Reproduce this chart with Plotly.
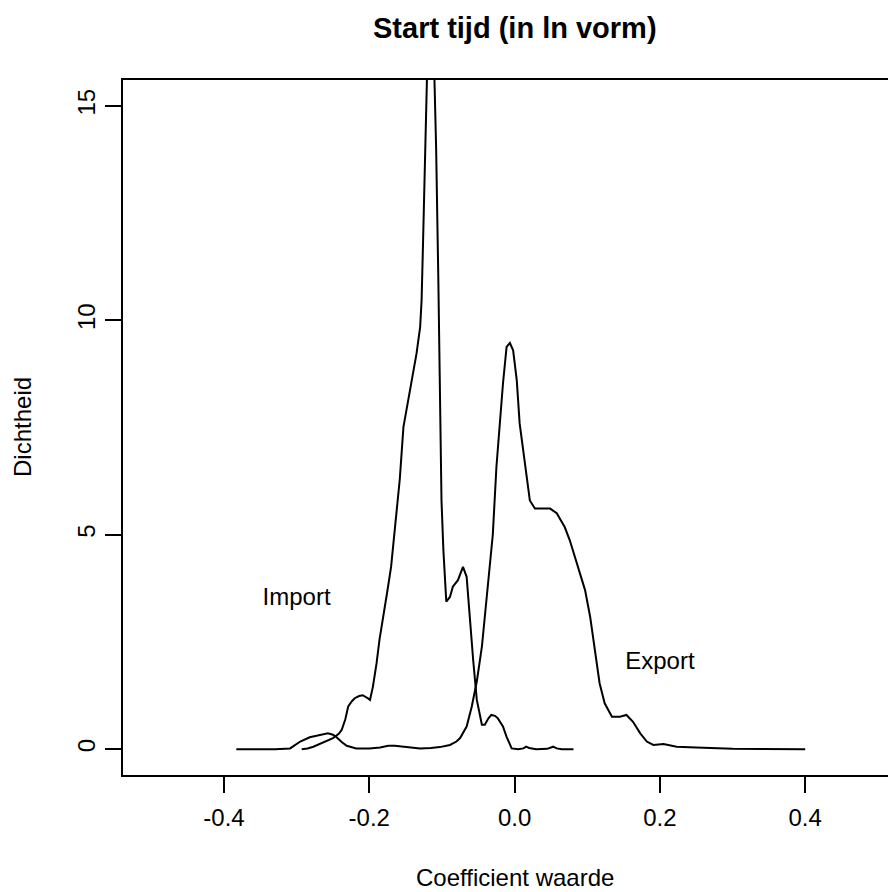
import plotly.graph_objects as go

# Import density curve
import_x = [-0.293, -0.285, -0.277, -0.265, -0.250, -0.242, -0.238, -0.233, -0.229, -0.224,
            -0.220, -0.214, -0.209, -0.203, -0.199, -0.195, -0.190, -0.186, -0.179, -0.175,
            -0.170, -0.166, -0.163, -0.158, -0.153, -0.146, -0.142, -0.135, -0.130, -0.128,
            -0.126, -0.124, -0.121, -0.118, -0.115, -0.112, -0.110, -0.108, -0.105, -0.103,
            -0.1006, -0.098, -0.094, -0.089, -0.085, -0.078, -0.074, -0.071, -0.066, -0.062,
            -0.057, -0.052, -0.045, -0.041, -0.036, -0.032, -0.027, -0.023, -0.016, -0.011,
            -0.004, 0.005, 0.012, 0.016, 0.020, 0.030, 0.045, 0.053, 0.058, 0.065, 0.081]
import_y = [0.00, 0.02, 0.06, 0.15, 0.26, 0.36, 0.45, 0.70, 1.00, 1.12,
            1.19, 1.24, 1.26, 1.20, 1.15, 1.46, 2.00, 2.55, 3.24, 3.70,
            4.25, 4.90, 5.34, 6.30, 7.51, 8.21, 8.60, 9.22, 9.84, 10.46,
            11.82, 13.65, 15.80, 17.50, 18.00, 16.80, 15.40, 14.03, 11.00, 8.13,
            5.80, 4.64, 3.44, 3.55, 3.79, 3.94, 4.10, 4.25, 4.02, 3.09,
            2.08, 1.15, 0.57, 0.57, 0.72, 0.80, 0.78, 0.72, 0.53, 0.29,
            0.02, 0.00, 0.02, 0.06, 0.03, 0.00, 0.01, 0.06, 0.02, 0.00, 0.00]

# Export density curve
export_x = [-0.383, -0.330, -0.309, -0.300, -0.295, -0.282, -0.268, -0.257, -0.250, -0.245,
            -0.238, -0.231, -0.218, -0.200, -0.185, -0.174, -0.165, -0.153, -0.140, -0.130,
            -0.115, -0.103, -0.089, -0.080, -0.075, -0.066, -0.059, -0.052, -0.045, -0.036,
            -0.030, -0.025, -0.020, -0.016, -0.011, -0.0065, -0.002, 0.003, 0.007, 0.014,
            0.021, 0.028, 0.040, 0.049, 0.058, 0.069, 0.076, 0.083, 0.090, 0.097,
            0.104, 0.111, 0.117, 0.124, 0.134, 0.145, 0.154, 0.163, 0.173, 0.182,
            0.191, 0.205, 0.215, 0.223, 0.250, 0.274, 0.300, 0.400]
export_y = [0.00, 0.00, 0.02, 0.12, 0.18, 0.28, 0.33, 0.37, 0.34, 0.28,
            0.17, 0.08, 0.02, 0.02, 0.04, 0.08, 0.08, 0.06, 0.03, 0.02,
            0.03, 0.05, 0.10, 0.18, 0.26, 0.53, 0.99, 1.58, 2.39, 3.87,
            5.00, 6.58, 7.75, 8.52, 9.38, 9.47, 9.30, 8.60, 7.59, 6.74,
            5.80, 5.61, 5.61, 5.61, 5.50, 5.18, 4.87, 4.49, 4.10, 3.71,
            3.09, 2.31, 1.54, 1.07, 0.76, 0.76, 0.80, 0.64, 0.37, 0.18,
            0.10, 0.12, 0.08, 0.06, 0.04, 0.02, 0.01, 0.00]

x_ticks = [-0.4, -0.2, 0.0, 0.2, 0.4]
x_tick_labels = ["-0.4", "-0.2", "0.0", "0.2", "0.4"]
y_ticks = [0, 5, 10, 15]
y_tick_labels = ["0", "5", "10", "15"]

labels = ["Import", "Export"]
label_x = [-0.30, 0.20]
label_y = [3.5, 2.0]

FONT = "Liberation Sans, Arial, sans-serif"

fig = go.Figure()
fig.add_trace(go.Scatter(x=import_x, y=import_y, mode="lines",
                         line=dict(color="black", width=2), showlegend=False))
fig.add_trace(go.Scatter(x=export_x, y=export_y, mode="lines",
                         line=dict(color="black", width=2), showlegend=False))
fig.add_trace(go.Scatter(x=label_x, y=label_y, mode="text", text=labels,
                         textfont=dict(family=FONT, size=24, color="black"),
                         showlegend=False, hoverinfo="skip"))

fig.update_layout(
    width=888, height=884,
    margin=dict(l=115, r=0, t=72, b=117),
    paper_bgcolor="white", plot_bgcolor="white",
    font=dict(family=FONT, size=24, color="black"),
    xaxis=dict(range=[-0.539, 0.525], tickvals=x_ticks, ticktext=x_tick_labels,
               ticks="outside", ticklen=16, tickwidth=2, tickcolor="black",
               showline=True, linecolor="black", linewidth=2, mirror=True,
               showgrid=False, zeroline=False, ticklabelstandoff=4,
               tickfont=dict(family=FONT, size=24, color="black")),
    yaxis=dict(range=[-0.6, 15.6], tickvals=y_ticks, ticktext=y_tick_labels,
               ticks="outside", ticklen=16, tickwidth=2, tickcolor="black",
               showline=True, linecolor="black", linewidth=2, mirror=False,
               showgrid=False, zeroline=False, tickangle=-90,
               tickfont=dict(family=FONT, size=24, color="black")),
    annotations=[
        dict(text="<b>Start tijd (in ln vorm)</b>", x=0.507, y=1.0748,
             xref="paper", yref="paper", xanchor="center", yanchor="middle",
             showarrow=False, font=dict(family=FONT, size=29, color="black")),
        dict(text="Coefficient waarde", x=0.507, y=-0.1468,
             xref="paper", yref="paper", xanchor="center", yanchor="middle",
             showarrow=False, font=dict(family=FONT, size=24, color="black")),
        dict(text="Dichtheid", x=-0.1307, y=0.5007, textangle=-90,
             xref="paper", yref="paper", xanchor="center", yanchor="middle",
             showarrow=False, font=dict(family=FONT, size=24, color="black")),
    ],
)

fig.write_html("out.html")
